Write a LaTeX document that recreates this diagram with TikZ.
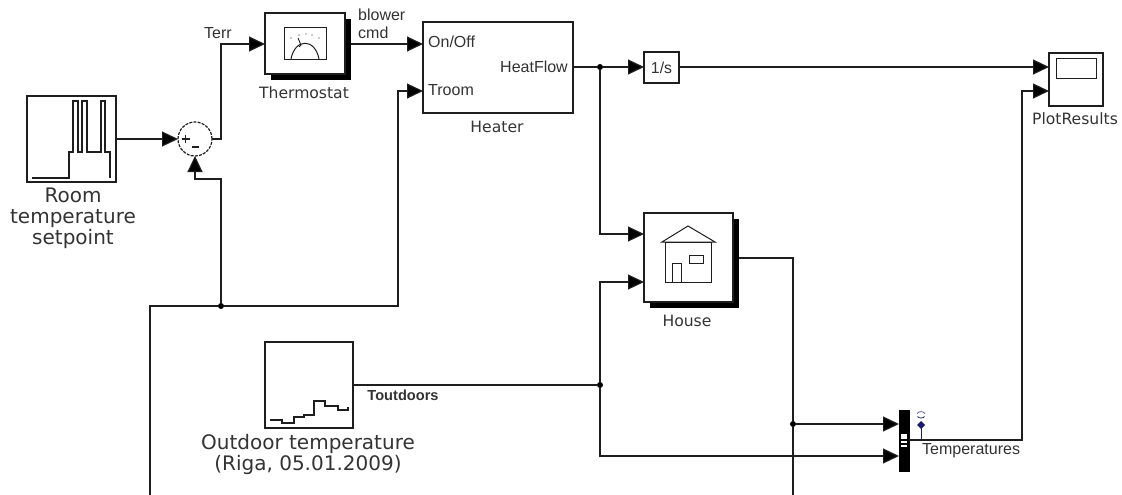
\documentclass[tikz,border=0pt]{standalone}
\usepackage{fontspec}
\setmainfont{Liberation Sans}
\newfontfamily\verd{DejaVu Sans}
\usetikzlibrary{arrows.meta}
\definecolor{ink}{HTML}{1E1E1E}
\definecolor{labelc}{HTML}{333333}
\definecolor{probe}{HTML}{1A1A6E}
\tikzset{
  block/.style={draw=ink,line width=1.2pt,fill=white,inner sep=0pt,outer sep=0pt,anchor=north west},
  wire/.style={draw=ink,line width=1.2pt},
  sig/.style={wire,-{Triangle[length=16pt,width=15pt,fill=black]}},
  jn/.style={circle,fill=black,inner sep=0pt,outer sep=0pt,minimum size=6pt},
  icon/.style={draw=ink,line width=1.2pt},
  biglab/.style={font=\verd\fontsize{20}{20.7}\selectfont,text=labelc,align=center,inner sep=0pt},
  midlab/.style={font=\verd\fontsize{15.6}{18}\selectfont,text=labelc,inner sep=0pt},
  smalllab/.style={font=\fontsize{16}{18.5}\selectfont,text=labelc,inner sep=0pt},
}
\begin{document}
\begin{tikzpicture}[x=1pt,y=-1pt]
\useasboundingbox (0,0) rectangle (1122,495);
% shadows
\fill[black] (271,19) rectangle (351,80);
\fill[black] (650,219) rectangle (739,308);
% blocks
\node[block,minimum width=89pt,minimum height=86pt] (room) at (27,96) {};
\node[block,circle,anchor=center,minimum size=34pt,dash pattern=on 3pt off 1.2pt] (sum) at (195,139) {};
\node[block,minimum width=80pt,minimum height=61pt] (thermo) at (265,13) {};
\node[block,minimum width=150pt,minimum height=91pt] (heater) at (423,22) {};
\node[block,minimum width=35pt,minimum height=31pt] (integ) at (644,52) {\fontsize{15.8}{18}\selectfont\textcolor{labelc}{1/s}};
\node[block,minimum width=54pt,minimum height=53pt] (plot) at (1049,53) {};
\node[block,minimum width=89pt,minimum height=89pt] (house) at (644,213) {};
\node[block,minimum width=88pt,minimum height=86pt] (outdoor) at (265,342) {};
\node[draw=black,fill=black,inner sep=0pt,outer sep=0pt,minimum width=10pt,minimum height=61pt,anchor=north west] (mux) at (899,410) {};
% icons
\draw[icon,line join=miter] (32,178)--(69,178)--(69,152)--(73,152)--(73,101)--(78,101)--(78,152)--(82,152)--(82,101)--(87,101)--(87,152)--(101,152)--(101,101)--(105,101)--(105,152)--(110,152)--(110,178);
\draw[icon,line width=1pt] (284,28) rectangle (326,60);
\draw[icon,line width=1pt] (291,59) .. controls (295,38) and (315,38) .. (319,59);
\draw[icon,line width=.9pt] (298,38)--(301,45)--(299,47);
\foreach \p in {(291,38),(299,35),(306,34),(312,35),(319,38)} \fill[ink] \p circle (.7pt);
\draw[icon,line width=1pt] (662,242)--(688,226)--(715,242)--cycle;
\draw[icon,line width=1pt] (665,242) rectangle (711,282);
\draw[icon,line width=1pt] (672,282)--(672,263)--(681,263)--(681,282);
\draw[icon,line width=1pt] (689,255) rectangle (703,263);
\draw[icon,line width=1pt] (1056,59) rectangle (1096,79);
\draw[icon] (270,420)--(282,420)--(282,423)--(294,423)--(294,417)--(304,417)--(304,415)--(314,415)--(314,401)--(325,401)--(325,406)--(338,406)--(338,410)--(348,410)--(348,407);
\fill[white] (901,434) rectangle (907,439);
\fill[white] (901,441) rectangle (907,443);
\fill[white] (901,445) rectangle (907,447);
\draw[ink,line width=1.1pt] (185.5,135)--(185.5,143) (181.5,139)--(189.5,139) (192,147)--(199,147);
% named ports / corners
\coordinate (thIn) at (265,44);
\coordinate (thOut) at (351,44);
\coordinate (heatOn) at (423,44);
\coordinate (heatRoom) at (423,91);
\coordinate (heatOut) at (573,67);
\coordinate (intIn) at (644,67);
\coordinate (intOut) at (679,67);
\coordinate (plotA) at (1049,67);
\coordinate (plotB) at (1049,91);
\coordinate (houseA) at (644,234);
\coordinate (houseB) at (644,282);
\coordinate (houseOut) at (739,258);
\coordinate (muxA) at (899,424);
\coordinate (muxB) at (899,456);
\coordinate (muxOut) at (909,440);
\coordinate (outOut) at (353,385);
\coordinate (fbStart) at (150,495);
\coordinate (roomOutEnd) at (793,495);
\node[jn] (j1) at (221,306) {};
\node[jn] (j2) at (600,67) {};
\node[jn] (j3) at (600,385) {};
\node[jn] (j4) at (793,424) {};
% connectors
\draw[sig] (room.east) -- (sum.west);
\draw[sig] (sum.east) -| (221,44) -- (thIn);
\draw[sig] (thOut) -- (heatOn);
\draw[wire] (fbStart) |- (j1);
\draw[sig] (j1) -- (398,306) -- (398,91) -- (heatRoom);
\draw[sig] (j1) -- (221,179) -- (195,179) -- (sum.south);
\draw[wire] (heatOut) -- (j2);
\draw[sig] (j2) -- (intIn);
\draw[sig] (intOut) -- (plotA);
\draw[sig] (j2) |- (houseA);
\draw[wire] (outOut) -- (j3);
\draw[sig] (j3) |- (houseB);
\draw[sig] (j3) |- (muxB);
\draw[wire] (houseOut) -| (j4);
\draw[wire] (j4) -- (roomOutEnd);
\draw[sig] (j4) -- (muxA);
\draw[sig] (muxOut) -| (1022,91) -- (plotB);
% probe
\coordinate (prb) at (921,425);
\draw[probe,line width=1pt] (921,440) -- (prb);
\fill[probe] (921,421)--(925,425)--(921,429)--(917,425)--cycle;
\draw[probe!70,line width=.8pt] (917,413.5) .. controls (919,411) and (923,411) .. (925,413.5);
\draw[probe,line width=.8pt] (917.5,416.5) .. controls (919,418.5) and (923,418.5) .. (924.5,416.5);
% labels
\node[biglab,anchor=north] (lroom) at (73,188) {Room\\temperature\\setpoint};
\node[biglab,anchor=north] (lout) at (308,434) {Outdoor temperature\\(Riga, 05.01.2009)};
\node[midlab] (lth) at (304,93) {Thermostat};
\node[smalllab] (lterr) at (218,33) {Terr};
\node[smalllab,anchor=west,align=left] (lblow) at (358,24) {blower\\cmd};
\node[smalllab,anchor=west] at (428,42) (lon) {On/Off};
\node[smalllab,anchor=west] at (428,90) (ltr) {Troom};
\node[smalllab,anchor=east] at (568,67) (lhf) {HeatFlow};
\node[midlab] (lheat) at (497,127) {Heater};
\node[midlab] (lhouse) at (687,321) {House};
\node[midlab] (lplot) at (1075,119) {PlotResults};
\node[smalllab,font=\bfseries\fontsize{14.6}{17}\selectfont] (ltout) at (403,395) {Toutdoors};
\node[smalllab,anchor=west] (ltemp) at (922,451) {Temperatures};
\end{tikzpicture}
\end{document}
